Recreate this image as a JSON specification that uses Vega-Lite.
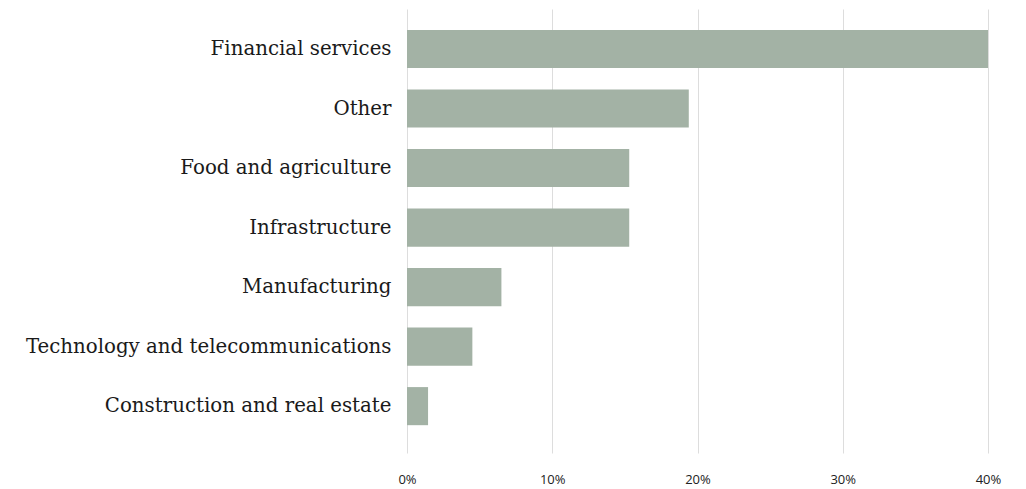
{
  "$schema": "https://vega.github.io/schema/vega-lite/v6.json",
  "autosize": "none",
  "width": 581,
  "height": 444,
  "padding": {"left": 407, "top": 9, "right": 38, "bottom": 36},
  "background": "white",
  "config": {"view": {"stroke": null}},
  "data": {
    "values": [
      {"sector": "Financial services", "share": 40.0},
      {"sector": "Other", "share": 19.4},
      {"sector": "Food and agriculture", "share": 15.3},
      {"sector": "Infrastructure", "share": 15.3},
      {"sector": "Manufacturing", "share": 6.5},
      {"sector": "Technology and telecommunications", "share": 4.5},
      {"sector": "Construction and real estate", "share": 1.45}
    ]
  },
  "mark": {"type": "bar", "color": "#a3b2a5"},
  "encoding": {
    "y": {
      "field": "sector",
      "type": "nominal",
      "sort": null,
      "title": null,
      "scale": {"paddingInner": 0.36, "paddingOuter": 0.41, "align": 0.43},
      "axis": {
        "domain": false,
        "ticks": false,
        "labelPadding": 16,
        "labelFont": "DejaVu Serif",
        "labelFontSize": 19.8,
        "labelColor": "#1a1a1a",
        "labelLimit": 0
      }
    },
    "x": {
      "field": "share",
      "type": "quantitative",
      "title": null,
      "scale": {"domain": [0, 40], "nice": false},
      "axis": {
        "values": [0, 10, 20, 30, 40],
        "labelExpr": "datum.value + '%'",
        "labelFlush": false,
        "domain": false,
        "ticks": false,
        "grid": true,
        "gridColor": "#dddddd",
        "gridWidth": 1,
        "labelPadding": 20,
        "labelFont": "Open Sans",
        "labelFontSize": 13,
        "labelColor": "#222222"
      }
    }
  }
}
